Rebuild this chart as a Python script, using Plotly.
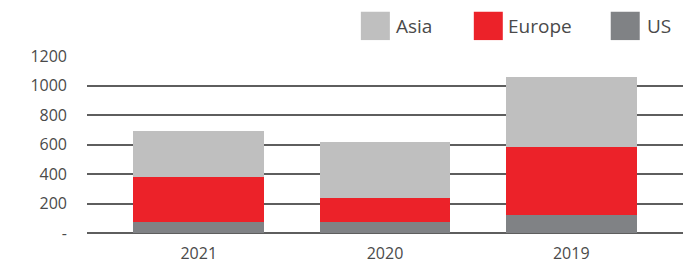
import plotly.graph_objects as go

years = ["2021", "2020", "2019"]
us = [78, 78, 120]
europe = [302, 161, 463]
asia = [310, 378, 472]

series_names = ["US", "Europe", "Asia"]
series_colors = {"US": "#808285", "Europe": "#EC2229", "Asia": "#BFBFBF"}

y_tickvals = [0, 200, 400, 600, 800, 1000, 1200]
y_ticktext = ["-", "200", "400", "600", "800", "1000", "1200"]

# page body has an 8px default margin; compensate
OFF = 8
W, H = 700 - OFF, 264 - OFF
L = 87 - OFF
T = 55.5 - OFF
R = W - (683.3 - OFF)
B = H - (233.5 - OFF)
pw, ph = W - L - R, H - T - B

def px_x(x):
    return (x - OFF - L) / pw

def px_y(y):
    return (H - B - (y - OFF)) / ph

FONT = "Open Sans"
TXT = "#4a4a4a"

fig = go.Figure()
for name, vals in zip(series_names, [us, europe, asia]):
    fig.add_trace(go.Bar(
        x=years, y=vals, name=name,
        marker=dict(color=series_colors[name], line=dict(width=0)),
        showlegend=False,
    ))

# custom legend (large square swatches)
legend_items = [("Asia", 361, 394), ("Europe", 474, 506), ("US", 611, 645)]
shapes = []
annotations = []
for name, sx, tx in legend_items:
    shapes.append(dict(type="rect", xref="paper", yref="paper",
                       x0=px_x(sx), x1=px_x(sx + 29), y0=px_y(39.5), y1=px_y(11),
                       fillcolor=series_colors[name], line=dict(width=0)))
    annotations.append(dict(xref="paper", yref="paper", x=px_x(tx), y=px_y(25),
                            xanchor="left", yanchor="middle", showarrow=False,
                            text=name, font=dict(family=FONT, size=19, color=TXT)))

fig.update_layout(
    width=W, height=H,
    margin=dict(l=L, r=R, t=T, b=B, pad=0),
    barmode="stack",
    bargap=0.297,
    plot_bgcolor="white", paper_bgcolor="white",
    font=dict(family=FONT, size=16, color=TXT),
    shapes=shapes, annotations=annotations,
    xaxis=dict(type="category", range=[-0.6, 2.6], showgrid=False, showline=False,
               automargin=False,
               ticks="", tickfont=dict(size=16, color=TXT), ticklabelstandoff=9),
    yaxis=dict(range=[0, 1200], tickvals=y_tickvals, ticktext=y_ticktext,
               automargin=False,
               showgrid=True, gridcolor="#5e5e5e", gridwidth=1.6,
               zeroline=True, zerolinecolor="#5e5e5e", zerolinewidth=1.6,
               showline=False, ticks="", tickfont=dict(size=16, color=TXT),
               ticklabelstandoff=19),
)

fig.write_html("out.html", config={"displayModeBar": False})
